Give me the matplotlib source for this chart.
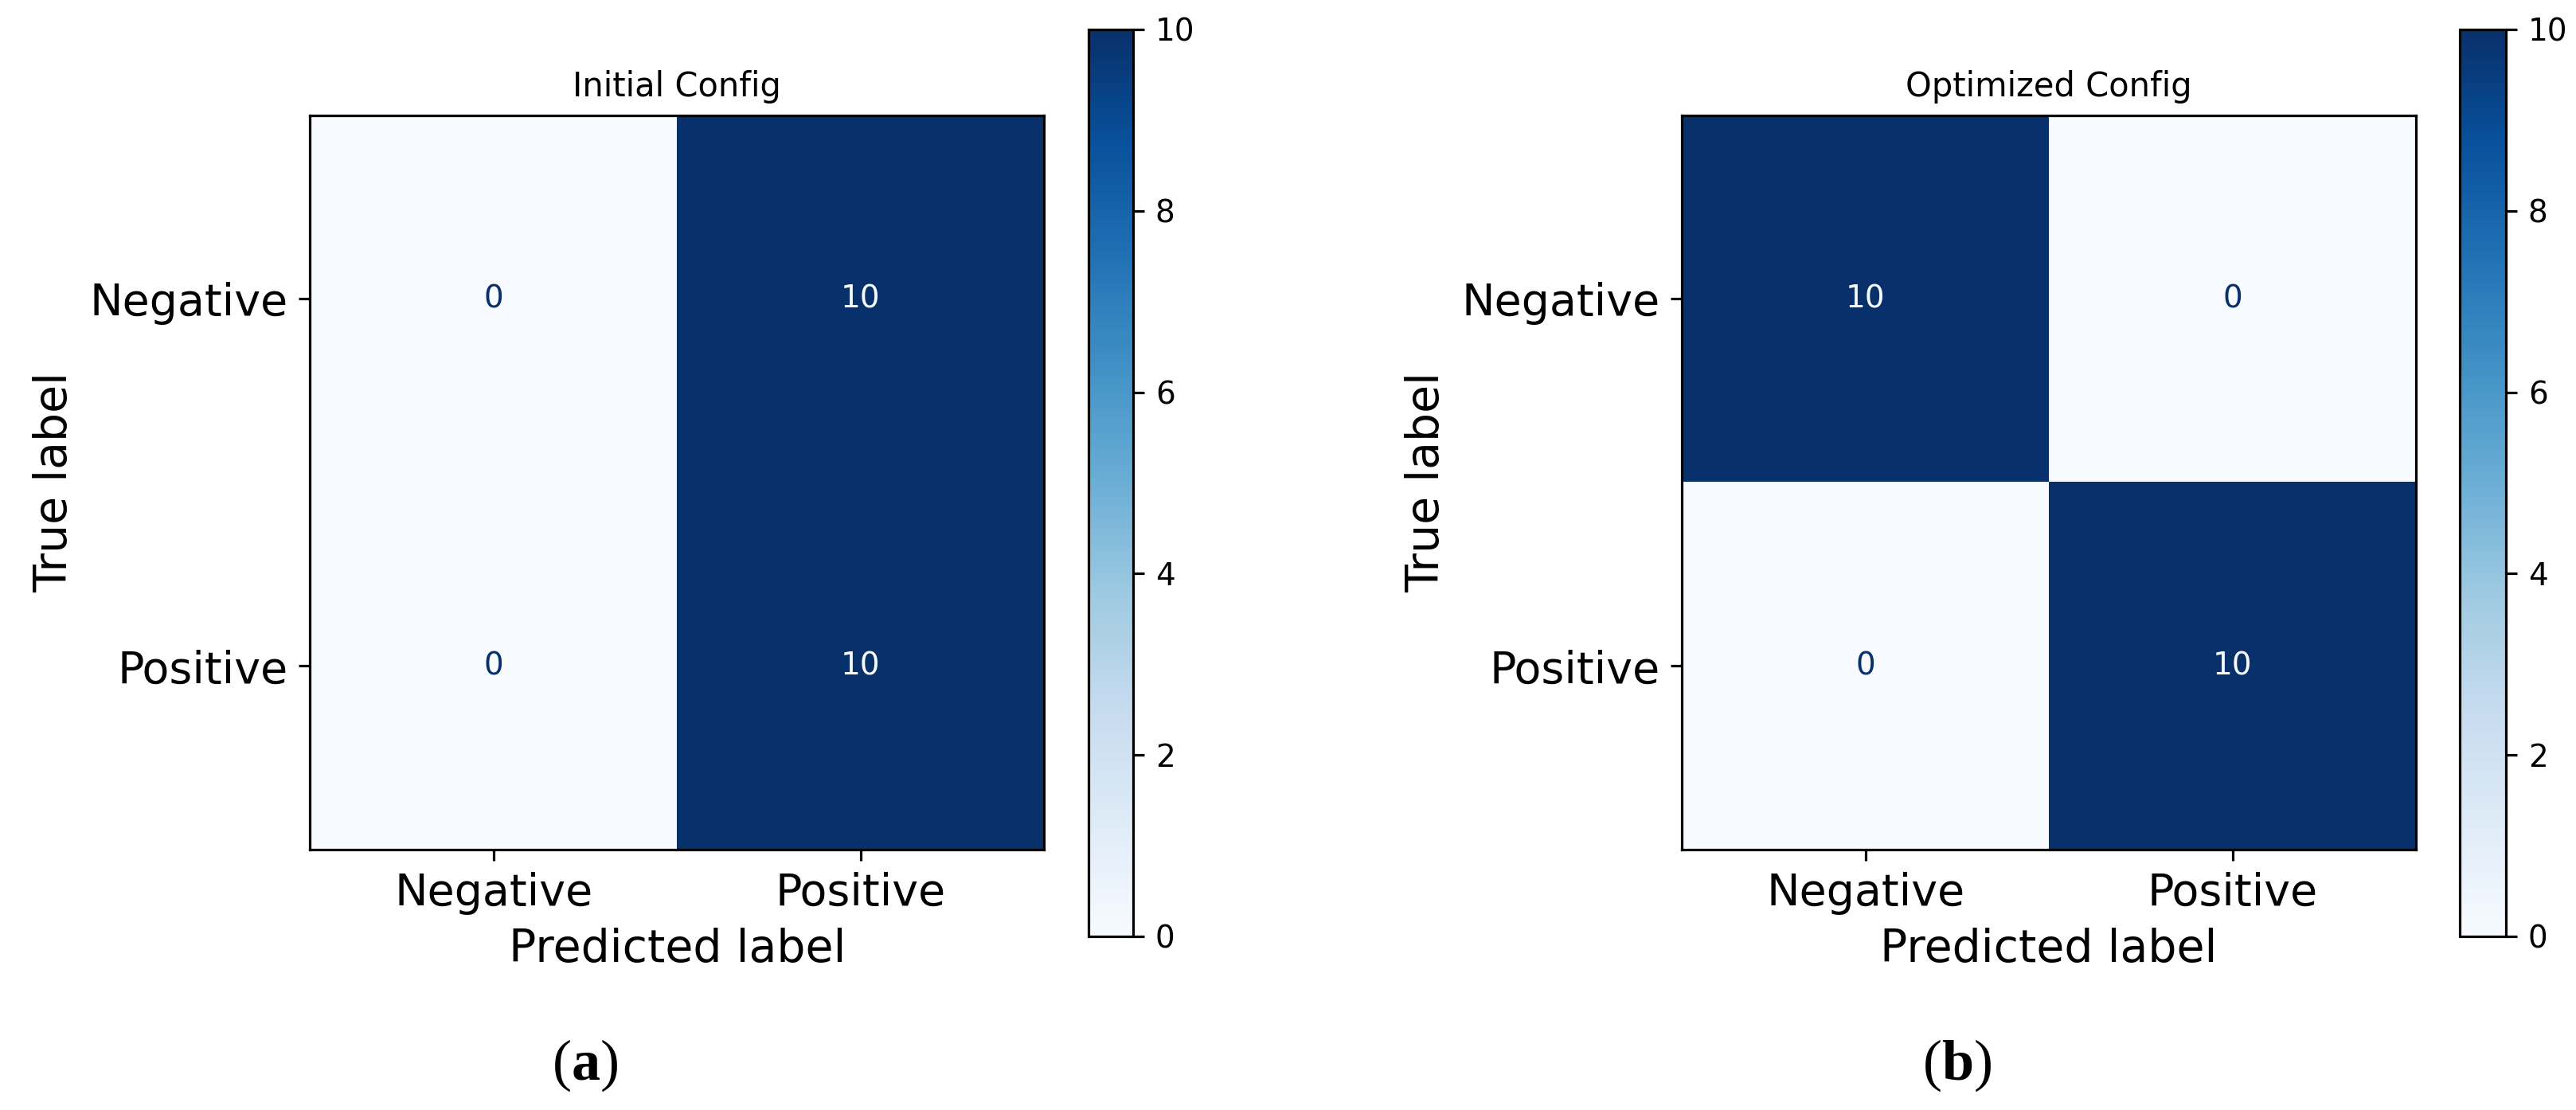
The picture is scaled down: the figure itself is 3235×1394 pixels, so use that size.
import numpy as np
import matplotlib
matplotlib.use("Agg")
import matplotlib.pyplot as plt

# ── Data ──────────────────────────────────────────────────────────────────────
class_labels = ["Negative", "Positive"]
cm_initial   = [[0, 10],
                [0, 10]]
cm_optimized = [[10, 0],
                [0, 10]]
panel_titles = ["Initial Config", "Optimized Config"]
panel_tags   = ["a", "b"]
cbar_ticks   = [0, 2, 4, 6, 8, 10]

# ── Style ─────────────────────────────────────────────────────────────────────
plt.rcParams["font.family"] = "DejaVu Sans"
plt.rcParams["mathtext.fontset"] = "custom"
plt.rcParams["mathtext.rm"] = "Liberation Serif"
plt.rcParams["mathtext.bf"] = "Liberation Serif:bold"

LW = 2.3
fig = plt.figure(figsize=(32.35, 13.94), dpi=100)
cmap = plt.get_cmap("Blues")

# axes boxes in figure fractions: [left, bottom, width, height]
ax_boxes   = [[0.1202, 0.2346, 0.2853, 0.6614], [0.6529, 0.2346, 0.2850, 0.6614]]
cbar_boxes = [[0.4226, 0.1564, 0.0173, 0.8171], [0.9549, 0.1564, 0.0179, 0.8171]]
tag_x      = [735 / 3235, 2458 / 3235]

for cm, title, tag, box, cbox, tx in zip([cm_initial, cm_optimized], panel_titles,
                                        panel_tags, ax_boxes, cbar_boxes, tag_x):
    cm = np.array(cm)
    ax = fig.add_axes(box)
    im = ax.imshow(cm, cmap=cmap, vmin=0, vmax=10, interpolation="nearest")

    # cell counts, colour switches on dark cells (like sklearn)
    thresh = (cm.max() + cm.min()) / 2.0
    for i in range(cm.shape[0]):
        for j in range(cm.shape[1]):
            color = cmap(0.0) if cm[i, j] >= thresh else cmap(1.0)
            ax.text(j, i, f"{cm[i, j]}", ha="center", va="center",
                    color=color, fontsize=28)

    ax.set_xticks(range(len(class_labels)))
    ax.set_yticks(range(len(class_labels)))
    ax.set_xticklabels(class_labels, fontsize=40)
    ax.set_yticklabels(class_labels, fontsize=40)
    ax.set_xlabel("Predicted label", fontsize=41, labelpad=11.5)
    ax.set_ylabel("True label", fontsize=41, labelpad=11.5)
    ax.set_title(title, fontsize=30, pad=17.3)
    ax.tick_params(length=10, width=LW, pad=10)
    for s in ax.spines.values():
        s.set_linewidth(LW)

    cax = fig.add_axes(cbox)
    cb = fig.colorbar(im, cax=cax, ticks=cbar_ticks)
    cb.outline.set_linewidth(LW)
    cax.tick_params(labelsize=28, length=10, width=LW, pad=10)

    fig.text(tx, 1 - 1338 / 1394, r"$\mathrm{(}\mathbf{" + tag + r"}\mathrm{)}$",
             ha="center", va="center", fontsize=52)

fig.savefig("out.png", dpi=100)
